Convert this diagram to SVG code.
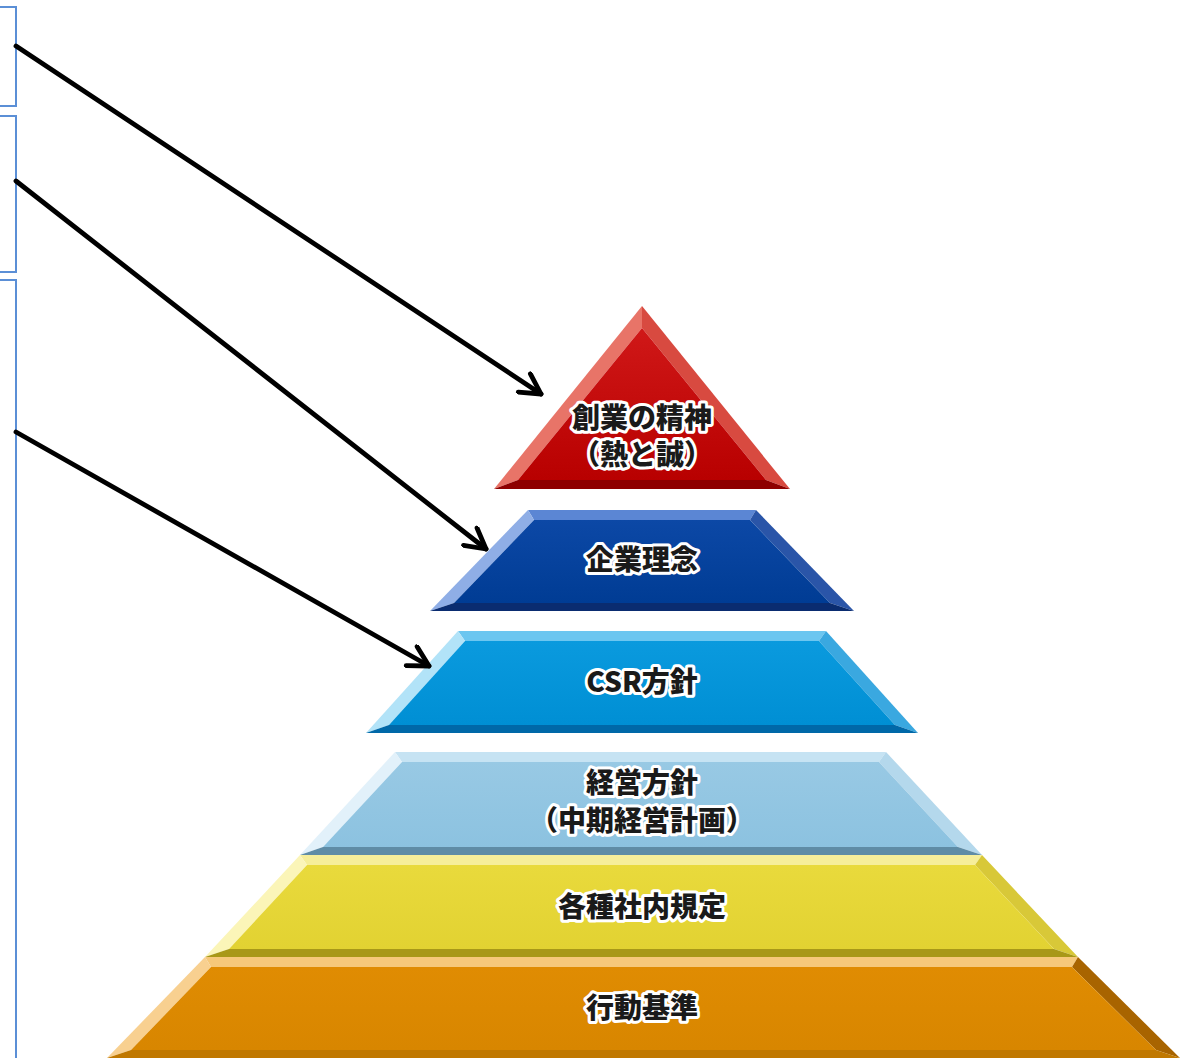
<svg xmlns="http://www.w3.org/2000/svg" width="1185" height="1058" viewBox="0 0 1185 1058">
<defs>
<style>
.box{fill:#fff;stroke:#5b8fd6;stroke-width:2}
.conn{fill:none;stroke:#000;stroke-width:4.8;stroke-linecap:round}
.lbl{font-family:"Noto Sans CJK JP","Noto Sans CJK SC",sans-serif;font-weight:900;font-size:28px;fill:#1a1a1a;stroke:#fff;stroke-width:6;stroke-linejoin:round;paint-order:stroke;text-anchor:middle}
</style>
<marker id="arr" viewBox="0 0 26 26" markerWidth="26" markerHeight="26" refX="23" refY="13" orient="auto" markerUnits="userSpaceOnUse">
<path d="M3,2 L23,13 L3,24" fill="none" stroke="#000" stroke-width="4.8" stroke-linecap="round" stroke-linejoin="round"/>
</marker>
<linearGradient id="gRed" x1="0" y1="0" x2="0" y2="1"><stop offset="0" stop-color="#d01818"/><stop offset="1" stop-color="#b80000"/></linearGradient>
<linearGradient id="gNavy" x1="0" y1="0" x2="0" y2="1"><stop offset="0" stop-color="#0c48a6"/><stop offset="1" stop-color="#003c94"/></linearGradient>
<linearGradient id="gCsr" x1="0" y1="0" x2="0" y2="1"><stop offset="0" stop-color="#0a9ade"/><stop offset="1" stop-color="#008fd4"/></linearGradient>
<linearGradient id="gLb" x1="0" y1="0" x2="0" y2="1"><stop offset="0" stop-color="#98c9e4"/><stop offset="1" stop-color="#8cc2e0"/></linearGradient>
<linearGradient id="gYel" x1="0" y1="0" x2="0" y2="1"><stop offset="0" stop-color="#e9da3c"/><stop offset="1" stop-color="#e2d232"/></linearGradient>
<linearGradient id="gOra" x1="0" y1="0" x2="0" y2="1"><stop offset="0" stop-color="#e08c02"/><stop offset="1" stop-color="#d88600"/></linearGradient>
</defs>
<rect width="1185" height="1058" fill="#fff"/>

<g id="box1"><rect class="box" x="-10" y="7" width="26" height="99"/></g>
<g id="box2"><rect class="box" x="-10" y="116" width="26" height="156"/></g>
<g id="box3"><rect class="box" x="-10" y="280" width="26" height="800"/></g>

<g id="layer-sogyo">
<polygon points="642,306 642,328 518,480 494,489" fill="#e87468"/>
<polygon points="642,306 790,489 766,480 642,328" fill="#d84a40"/>
<polygon points="494,489 518,480 766,480 790,489" fill="#8e0000"/>
<polygon points="642,328 518,480 766,480" fill="url(#gRed)"/>
<text class="lbl" x="642" y="428">創業の精神</text>
<text class="lbl" x="642" y="465">（熱と誠）</text>
</g>

<g id="layer-rinen">
<polygon points="528,510 756,510 750,520 534,520" fill="#5b86d4"/>
<polygon points="528,510 534,520 454,603 430,611" fill="#8faee6"/>
<polygon points="756,510 854,611 830,603 750,520" fill="#2a55a8"/>
<polygon points="430,611 454,603 830,603 854,611" fill="#0a2c70"/>
<polygon points="534,520 750,520 830,603 454,603" fill="url(#gNavy)"/>
<text class="lbl" x="642" y="570">企業理念</text>
</g>

<g id="layer-csr">
<polygon points="458,631 826,631 819,641 465,641" fill="#6cc6f0"/>
<polygon points="458,631 465,641 389,725 366,733" fill="#b2e3f8"/>
<polygon points="826,631 918,733 895,725 819,641" fill="#3aa8e0"/>
<polygon points="366,733 389,725 895,725 918,733" fill="#0068a8"/>
<polygon points="465,641 819,641 895,725 389,725" fill="url(#gCsr)"/>
<text class="lbl" x="642" y="692">CSR方針</text>
</g>

<g id="layer-keiei">
<polygon points="395,752 886,752 879,762 402,762" fill="#c6e3f3"/>
<polygon points="395,752 402,762 323,847 300,855" fill="#e2f1fa"/>
<polygon points="886,752 982,855 958,847 879,762" fill="#b4d8ec"/>
<polygon points="300,855 323,847 958,847 982,855" fill="#5f8ca6"/>
<polygon points="402,762 879,762 958,847 323,847" fill="url(#gLb)"/>
<text class="lbl" x="642" y="793">経営方針</text>
<text class="lbl" x="642" y="831">（中期経営計画）</text>
</g>

<g id="layer-kitei">
<polygon points="300,855 982,855 975,865 307,865" fill="#f6ee9a"/>
<polygon points="300,855 307,865 229,949 205,957" fill="#fbf5b8"/>
<polygon points="982,855 1078,957 1054,949 975,865" fill="#d8c838"/>
<polygon points="205,957 229,949 1054,949 1078,957" fill="#a89818"/>
<polygon points="307,865 975,865 1054,949 229,949" fill="url(#gYel)"/>
<text class="lbl" x="642" y="917">各種社内規定</text>
</g>

<g id="layer-kijun">
<polygon points="205,957 1078,957 1072,967 211,967" fill="#f6c87a"/>
<polygon points="205,957 211,967 131,1050 107,1058" fill="#f8d090"/>
<polygon points="1078,957 1180,1058 1156,1050 1072,967" fill="#a86400"/>
<polygon points="107,1058 131,1050 1156,1050 1180,1058" fill="#c07800"/>
<polygon points="211,967 1072,967 1156,1050 131,1050" fill="url(#gOra)"/>
<text class="lbl" x="642" y="1018">行動基準</text>
</g>

<g id="connectors">
<line class="conn" x1="16" y1="46" x2="541" y2="394" marker-end="url(#arr)"/>
<line class="conn" x1="16" y1="181" x2="486" y2="549" marker-end="url(#arr)"/>
<line class="conn" x1="16" y1="432" x2="429" y2="666" marker-end="url(#arr)"/>
</g>
</svg>
